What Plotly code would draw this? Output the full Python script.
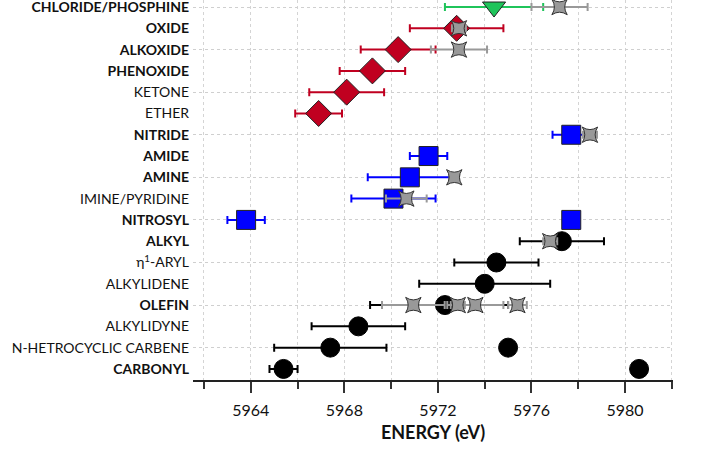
import plotly.graph_objects as go

# Categories, top to bottom as shown
categories = [
    "<b>CHLORIDE/PHOSPHINE</b>", "<b>OXIDE</b>", "<b>ALKOXIDE</b>", "<b>PHENOXIDE</b>",
    "KETONE", "ETHER", "<b>NITRIDE</b>", "<b>AMIDE</b>", "<b>AMINE</b>", "IMINE/PYRIDINE",
    "<b>NITROSYL</b>", "<b>ALKYL</b>", "η<sup>1</sup>-ARYL", "ALKYLIDENE", "<b>OLEFIN</b>",
    "ALKYLIDYNE", "N-HETROCYCLIC CARBENE", "<b>CARBONYL</b>",
]
cat_order = categories[::-1]  # bottom to top for the axis

# Green (halide/phosphine)
green_cat = ["<b>CHLORIDE/PHOSPHINE</b>"]
green_x = [5974.4]
green_err = [2.1]

# Red (O-donors)
red_cat = ["<b>OXIDE</b>", "<b>ALKOXIDE</b>", "<b>PHENOXIDE</b>", "KETONE", "ETHER"]
red_x = [5972.8, 5970.3, 5969.2, 5968.1, 5966.9]
red_err = [2.0, 1.6, 1.4, 1.6, 1.0]

# Blue (N-donors)
blue_cat = ["<b>NITRIDE</b>", "<b>AMIDE</b>", "<b>AMINE</b>", "IMINE/PYRIDINE",
            "<b>NITROSYL</b>", "<b>NITROSYL</b>"]
blue_x = [5977.7, 5971.6, 5970.8, 5970.1, 5963.8, 5977.7]
blue_err = [0.8, 0.8, 1.8, 1.8, 0.8, 0.3]

# Black (C-donors)
black_cat = ["<b>ALKYL</b>", "η<sup>1</sup>-ARYL", "ALKYLIDENE", "<b>OLEFIN</b>",
             "ALKYLIDYNE", "N-HETROCYCLIC CARBENE", "N-HETROCYCLIC CARBENE",
             "<b>CARBONYL</b>", "<b>CARBONYL</b>"]
black_x = [5977.3, 5974.5, 5974.0, 5972.3, 5968.6, 5967.4, 5975.0, 5965.4, 5980.6]
black_err_plus = [1.8, 1.8, 2.8, 2.7, 2.0, 2.4, 0.2, 0.6, 0.3]
black_err_minus = [1.8, 1.8, 2.8, 3.2, 2.0, 2.4, 0.2, 0.6, 0.3]

# Gray stars
gray_cat = ["<b>CHLORIDE/PHOSPHINE</b>", "<b>OXIDE</b>", "<b>ALKOXIDE</b>", "<b>NITRIDE</b>",
            "<b>AMINE</b>", "IMINE/PYRIDINE", "<b>ALKYL</b>",
            "<b>OLEFIN</b>", "<b>OLEFIN</b>", "<b>OLEFIN</b>", "<b>OLEFIN</b>"]
gray_x = [5977.2, 5972.9, 5972.9, 5978.5, 5972.7, 5970.65, 5976.8,
          5970.95, 5972.85, 5973.6, 5975.4]
gray_err = [1.2, 0.3, 1.2, 0.3, 0.2, 0.87, 0.3, 1.34, 0.3, 1.2, 0.4]

grid_cats = cat_order[1::2]

fig = go.Figure()

def add(cat, x, ep, em, color, symbol, size, ecolor, line_color="#222"):
    fig.add_trace(go.Scatter(
        x=x, y=cat, mode="markers",
        marker=dict(symbol=symbol, size=size, color=color,
                    line=dict(color=line_color, width=1)),
        error_x=dict(type="data", array=ep, arrayminus=em, symmetric=False,
                     color=ecolor, thickness=2, width=4),
        showlegend=False, hoverinfo="skip",
    ))

add(red_cat, red_x, red_err, red_err, "#c00020", "diamond", 20, "#c00020")
add(green_cat, green_x, green_err, green_err, "#1fc45a", "triangle-down", 20, "#1fc45a")
add(blue_cat, blue_x, blue_err, blue_err, "#0000ff", "square", 19, "#0000ff")
add(black_cat, black_x, black_err_plus, black_err_minus, "#000000", "circle", 19, "#000000", "#000")
add(gray_cat, gray_x, gray_err, gray_err, "#999999", "star-square", 14, "#999999", "#333")

# invisible trace carrying the alternating horizontal grid axis
fig.add_trace(go.Scatter(x=[None], y=[None], yaxis="y2", showlegend=False,
                         hoverinfo="skip", mode="markers"))

font_family = "Lato, DejaVu Sans, sans-serif"

fig.update_layout(
    width=717, height=464,
    margin=dict(l=193, r=44, t=0, b=84, pad=0),
    plot_bgcolor="white", paper_bgcolor="white",
    font=dict(family=font_family, color="#111"),
    xaxis=dict(
        range=[5961.53, 5982.05], automargin=False,
        tick0=5964, dtick=4,
        ticks="outside", ticklen=11, tickwidth=1.5, tickcolor="#333",
        showline=True, linecolor="#222", linewidth=1.5,
        showgrid=True, gridcolor="#d4d4d4", griddash="dot", gridwidth=1,
        zeroline=False,
        tickfont=dict(size=16, color="#111"),
        ticklabelstandoff=4,
        minor=dict(dtick=2, tick0=5962, ticks="outside", ticklen=7,
                   tickcolor="#333", tickwidth=1.5,
                   showgrid=True, gridcolor="#d4d4d4", griddash="dot"),
        title=dict(text="<b>ENERGY (eV)</b>", font=dict(size=18, color="#111"), standoff=8),
    ),
    yaxis=dict(
        type="category", categoryorder="array", categoryarray=cat_order,
        range=[-0.52, 17.33], automargin=False,
        showgrid=False, showline=False, zeroline=False, ticks="",
        tickfont=dict(size=14, color="#111"),
        ticklabelstandoff=3,
    ),
    yaxis2=dict(
        type="category", categoryorder="array", categoryarray=cat_order,
        overlaying="y", range=[-0.52, 17.33], automargin=False,
        tickmode="array", tickvals=grid_cats,
        showticklabels=False, ticks="",
        showgrid=True, gridcolor="#cfcfcf", griddash="dot", gridwidth=1,
        showline=False, zeroline=False,
    ),
)

fig.write_html("out.html", config={"displayModeBar": False},
               post_script="document.body.style.margin='0px';")
